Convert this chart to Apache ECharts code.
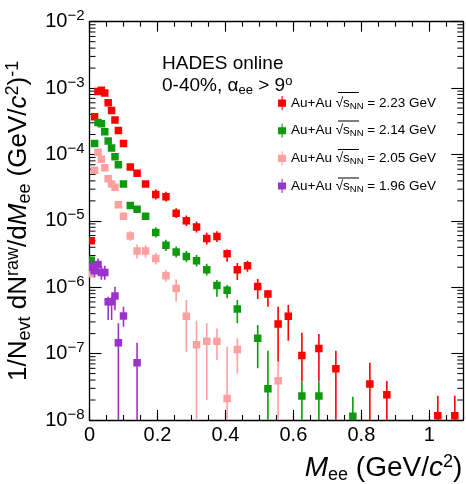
<!DOCTYPE html>
<html><head><meta charset="utf-8">
<script src="https://cdn.jsdelivr.net/npm/echarts@6/dist/echarts.min.js"></script>
<style>html,body{margin:0;padding:0;background:#fff}#c{width:466px;height:484px}</style>
</head><body><div id="c"></div>
<script>
const FONT = '"Liberation Sans", Arial, Helvetica, sans-serif';

// ---- data ----
const energies = ['2.23', '2.14', '2.05', '1.96'];
const colors = ['#ff0000', '#0e9a0e', '#ffa0a0', '#9a33cc'];

const redX = [0.005,0.015,0.025,0.035,0.045,0.055,0.065,0.075,0.085,0.1,0.12,0.14,0.165,0.195,0.225,0.255,0.285,0.315,0.345,0.375,0.405,0.435,0.465,0.495,0.525,0.555,0.585,0.625,0.675,0.725,0.825,0.875,1.025,1.075];
const redY = [5.0e-6,3.7e-4,8.9e-4,9.3e-4,8.4e-4,6.0e-4,4.6e-4,3.3e-4,2.3e-4,1.46e-4,6.5e-5,5.2e-5,3.6e-5,2.5e-5,2.3e-5,1.3e-5,1.0e-5,8.1e-6,5.4e-6,5.8e-6,3.2e-6,1.84e-6,2.1e-6,1.03e-6,7.9e-7,2.8e-7,3.65e-7,9.4e-8,1.19e-7,5.9e-8,3.5e-8,2.4e-8,1.16e-8,1.16e-8];
const redLo = [null,null,null,null,null,null,null,null,null,null,null,null,null,2.1e-5,1.95e-5,1.1e-5,8.4e-6,6.7e-6,4.4e-6,4.8e-6,2.43e-6,1.28e-6,1.71e-6,6.65e-7,5.1e-7,7.55e-8,1.56e-7,3.8e-8,3.8e-8,0,0,0,0,0];
const redHi = [null,null,null,null,null,null,null,null,null,null,null,null,null,3.0e-5,2.75e-5,1.55e-5,1.2e-5,9.8e-6,6.6e-6,7.0e-6,3.7e-6,2.32e-6,2.5e-6,1.33e-6,9.1e-7,5.1e-7,5.4e-7,2.07e-7,1.97e-7,1.1e-7,7.3e-8,3.86e-8,2.32e-8,2.32e-8];

const greenX = [0.005,0.015,0.025,0.035,0.045,0.055,0.065,0.075,0.085,0.1,0.12,0.14,0.165,0.195,0.225,0.255,0.285,0.315,0.345,0.375,0.405,0.435,0.495,0.525,0.625,0.675,0.775];
const greenY = [2.54e-6,1.46e-4,3.04e-4,2.9e-4,2.2e-4,1.6e-4,1.25e-4,9.2e-5,7.0e-5,3.6e-5,1.7e-5,1.5e-5,1.17e-5,6.7e-6,4.3e-6,3.4e-6,2.9e-6,2.5e-6,1.84e-6,1.06e-6,9.0e-7,4.7e-7,1.7e-7,2.95e-8,2.3e-8,2.3e-8,1.14e-8];
const greenLo = [null,null,null,null,null,null,null,null,null,null,null,null,null,5.6e-6,3.5e-6,2.8e-6,2.4e-6,2.05e-6,1.5e-6,7.2e-7,6.8e-7,2.86e-7,6.0e-8,0,0,0,0];
const greenHi = [null,null,null,null,null,null,null,null,null,null,null,null,null,8.0e-6,5.2e-6,4.1e-6,3.5e-6,3.05e-6,2.25e-6,1.29e-6,1.08e-6,6.4e-7,2.7e-7,1.1e-7,3.78e-8,3.78e-8,2.24e-8];

const pinkX = [0.005,0.015,0.025,0.035,0.045,0.055,0.065,0.075,0.085,0.1,0.12,0.14,0.165,0.195,0.225,0.255,0.285,0.315,0.345,0.375,0.405,0.435,0.555];
const pinkY = [1.6e-6,5.8e-5,1.08e-4,8.5e-5,6.3e-5,4.3e-5,3.6e-5,3.2e-5,1.75e-5,1.17e-5,5.9e-6,3.5e-6,3.5e-6,2.7e-6,1.49e-6,9.6e-7,3.65e-7,1.36e-7,1.53e-7,1.53e-7,2.1e-8,1.15e-7,3.9e-8];
const pinkLo = [null,null,null,null,null,null,null,null,null,null,5.0e-6,2.7e-6,2.8e-6,2.2e-6,1.21e-6,6.05e-7,1.07e-7,0,2.0e-8,8.0e-8,0,5.0e-8,0];
const pinkHi = [null,null,null,null,null,null,null,null,null,null,7.0e-6,4.4e-6,4.3e-6,3.3e-6,1.82e-6,1.31e-6,6.4e-7,3.13e-7,2.86e-7,2.4e-7,1.27e-7,1.7e-7,7.55e-8];

const purpleX = [0.005,0.015,0.025,0.035,0.045,0.055,0.065,0.075,0.085,0.1,0.14];
const purpleY = [2.0e-6,1.77e-6,2.2e-6,1.66e-6,1.66e-6,6.05e-7,6.05e-7,7.4e-7,1.46e-7,3.7e-7,7.3e-8];
const purpleLo = [1.6e-6,1.4e-6,1.8e-6,1.3e-6,1.3e-6,3.2e-7,3.2e-7,4.5e-7,0,2.54e-7,0];
const purpleHi = [2.5e-6,2.2e-6,2.7e-6,2.1e-6,2.1e-6,7.2e-7,7.2e-7,1.02e-6,2.86e-7,5.1e-7,1.46e-7];

// ---- axes ----
const xMin = 0, xMax = 1.1;
const xTicks = [0, 0.2, 0.4, 0.6, 0.8, 1.0];
const xTickLabels = ['0', '0.2', '0.4', '0.6', '0.8', '1'];
const yMin = 1e-8, yMax = 1e-2;
const yTicks = [1e-8, 1e-7, 1e-6, 1e-5, 1e-4, 1e-3, 1e-2];
const yTickExp = ['\u22128', '\u22127', '\u22126', '\u22125', '\u22124', '\u22123', '\u22122'];
const yMinorMultipliers = [2, 3, 4, 5, 6, 7, 8, 9];
const yMinorDecades = [1e-8, 1e-7, 1e-6, 1e-5, 1e-4, 1e-3];

const chart = echarts.init(document.getElementById('c'), null, {renderer: 'canvas'});

function xLabel(v) {
  for (let i = 0; i < xTicks.length; i++) if (Math.abs(v - xTicks[i]) < 1e-6) return xTickLabels[i];
  return '';
}
function yLabel(v) {
  for (let i = 0; i < yTicks.length; i++) if (Math.abs(Math.log10(v) - Math.log10(yTicks[i])) < 1e-6) return '{b|10}{s|' + yTickExp[i] + '}';
  return '';
}

function makeSeries(i, xs, ys, lo, hi) {
  const data = xs.map((x, k) => [x, ys[k], lo[k] == null ? ys[k] : lo[k], hi[k] == null ? ys[k] : hi[k]]);
  const col = colors[i];
  return {
    type: 'custom', name: energies[i], xAxisIndex: 0, yAxisIndex: 0,
    itemStyle: {color: col}, clip: true, z: 3 + i,
    encode: {x: 0, y: 1},
    data: data,
    renderItem: function (params, api) {
      const x = api.value(0), y = api.value(1), l = api.value(2), h = api.value(3);
      const cs = params.coordSys;
      const bottom = cs.y + cs.height;
      const p = api.coord([x, y]);
      const yl = l > 0 ? Math.min(api.coord([x, Math.max(l, yMin)])[1], bottom) : bottom;
      const yh = api.coord([x, h])[1];
      const s = 7.5;
      return {type: 'group', children: [
        {type: 'line', shape: {x1: p[0], y1: yl, x2: p[0], y2: yh}, style: {stroke: col, lineWidth: 1.6}},
        {type: 'rect', shape: {x: p[0] - s / 2, y: p[1] - s / 2, width: s, height: s}, style: {fill: col}}
      ]};
    }
  };
}

const minorData = [];
yMinorDecades.forEach(d => yMinorMultipliers.forEach(m => minorData.push([0, m * d])));

const axisLineStyle = {color: '#000', width: 1.3};
const tickStyle = {color: '#000', width: 1.1};
const ICON = 'path://M0,4h9v8h-9z M4,0h1.2v16h-1.2z';

// overline of the square root in the legend (decoration)
const legendTop = 91, legendRow = 28.5;
const overlines = energies.map((e, i) => ({
  type: 'line', silent: true,
  shape: {x1: 338, y1: legendTop + 1.5 + i * legendRow, x2: 359, y2: legendTop + 1.5 + i * legendRow},
  style: {stroke: '#000', lineWidth: 1}
}));

const option = {
  animation: false,
  backgroundColor: '#ffffff',
  grid: {left: 89.5, right: 2.7, top: 21.7, bottom: 64, show: false, containLabel: false, outerBoundsMode: 'none'},
  legend: {
    orient: 'vertical', left: 273, top: legendTop, itemWidth: 8, itemHeight: 15, itemGap: 12.5,
    data: energies.map(e => ({name: e, icon: ICON})),
    selectedMode: false,
    formatter: function (name) { return '{t|Au+Au }{t|\u221A}{s|s}{sub|NN}{t| = ' + name + ' GeV}'; },
    textStyle: {
      color: '#000', fontFamily: FONT, fontSize: 13.5,
      rich: {
        t: {fontSize: 13.5, fontFamily: FONT, color: '#000', lineHeight: 16},
        s: {fontSize: 13.5, fontFamily: FONT, color: '#000', lineHeight: 16},
        sub: {fontSize: 9.5, fontFamily: FONT, color: '#000', lineHeight: 9, verticalAlign: 'bottom'}
      }
    }
  },
  graphic: [
    {type: 'text', left: 162, top: 54.5, style: {text: 'HADES online', font: '19px ' + FONT, fill: '#000'}},
    {type: 'text', left: 162, top: 75, style: {
      text: '{t|0-40%, }{a|\u03B1}{sub|ee}{t| > 9}{sup|o}', fill: '#000',
      rich: {
        t: {fontSize: 19, fontFamily: FONT, lineHeight: 22},
        a: {fontSize: 19, fontFamily: FONT, lineHeight: 22},
        sub: {fontSize: 13, fontFamily: FONT, lineHeight: 12, verticalAlign: 'bottom'},
        sup: {fontSize: 13, fontFamily: FONT, lineHeight: 13, verticalAlign: 'top'}
      }
    }}
  ].concat(overlines),
  xAxis: [
    {type: 'value', min: xMin, max: xMax, interval: 0.2, position: 'bottom',
     axisLine: {show: true, onZero: false, lineStyle: axisLineStyle},
     axisTick: {show: true, inside: true, length: 10, lineStyle: tickStyle},
     axisLabel: {formatter: xLabel, margin: 5, fontSize: 20, fontFamily: FONT, color: '#000', showMaxLabel: false},
     splitLine: {show: false},
     name: '{it|M}{sub|ee}{t| (GeV/}{it|c}{sup|2}{t|)}', nameLocation: 'end', nameGap: -1,
     nameTextStyle: {align: 'right', verticalAlign: 'top', padding: [33, 0, 0, 0], color: '#000',
       rich: {
         t: {fontSize: 28, fontFamily: FONT, color: '#000', lineHeight: 31},
         it: {fontSize: 28, fontFamily: FONT, fontStyle: 'italic', color: '#000', lineHeight: 31},
         sub: {fontSize: 18, fontFamily: FONT, color: '#000', lineHeight: 14, verticalAlign: 'bottom'},
         sup: {fontSize: 18, fontFamily: FONT, color: '#000', lineHeight: 16, verticalAlign: 'top'}
       }}},
    {type: 'value', min: xMin, max: xMax, interval: 0.05, position: 'bottom',
     axisLine: {show: false}, axisTick: {show: true, inside: true, length: 5, lineStyle: tickStyle},
     axisLabel: {show: false}, splitLine: {show: false}},
    {type: 'value', min: xMin, max: xMax, interval: 0.2, position: 'top',
     axisLine: {show: true, onZero: false, lineStyle: axisLineStyle},
     axisTick: {show: true, inside: true, length: 10, lineStyle: tickStyle},
     axisLabel: {show: false}, splitLine: {show: false}},
    {type: 'value', min: xMin, max: xMax, interval: 0.05, position: 'top',
     axisLine: {show: false}, axisTick: {show: true, inside: true, length: 5, lineStyle: tickStyle},
     axisLabel: {show: false}, splitLine: {show: false}}
  ],
  yAxis: [
    {type: 'log', logBase: 10, min: yMin, max: yMax, splitNumber: 6, position: 'left',
     axisLine: {show: true, onZero: false, lineStyle: axisLineStyle},
     axisTick: {show: true, inside: true, length: 12, lineStyle: tickStyle},
     axisLabel: {formatter: yLabel, margin: 5, color: '#000',
       rich: {
         b: {fontSize: 20, fontFamily: FONT, color: '#000', lineHeight: 26},
         s: {fontSize: 15, fontFamily: FONT, color: '#000', lineHeight: 16, verticalAlign: 'top'}
       }},
     splitLine: {show: false},
     name: '{t|1/N}{sub|evt}{t| dN}{sup|raw}{t|/d}{it|M}{sub|ee}{t| (GeV/}{it|c}{sup|2}{t|)}{sup|-1}',
     nameLocation: 'middle', nameRotate: 90, nameGap: 50,
     nameTextStyle: {color: '#000',
       rich: {
         t: {fontSize: 26, fontFamily: FONT, color: '#000', lineHeight: 30},
         it: {fontSize: 26, fontFamily: FONT, fontStyle: 'italic', color: '#000', lineHeight: 30},
         sub: {fontSize: 18, fontFamily: FONT, color: '#000', lineHeight: 16, verticalAlign: 'bottom'},
         sup: {fontSize: 18, fontFamily: FONT, color: '#000', lineHeight: 18, verticalAlign: 'top'}
       }}},
    {type: 'log', logBase: 10, min: yMin, max: yMax, splitNumber: 6, position: 'right',
     axisLine: {show: true, onZero: false, lineStyle: axisLineStyle},
     axisTick: {show: true, inside: true, length: 12, lineStyle: tickStyle},
     axisLabel: {show: false}, splitLine: {show: false}}
  ],
  series: [
    {type: 'custom', name: 'minorTicks', xAxisIndex: 0, yAxisIndex: 0, silent: true, z: 2,
     encode: {x: 0, y: 1}, data: minorData,
     renderItem: function (params, api) {
       const cs = params.coordSys;
       const yy = api.coord([0, api.value(1)])[1];
       return {type: 'group', children: [
         {type: 'line', shape: {x1: cs.x, y1: yy, x2: cs.x + 6, y2: yy}, style: {stroke: '#000', lineWidth: 1}},
         {type: 'line', shape: {x1: cs.x + cs.width - 6, y1: yy, x2: cs.x + cs.width, y2: yy}, style: {stroke: '#000', lineWidth: 1}}
       ]};
     }},
    makeSeries(0, redX, redY, redLo, redHi),
    makeSeries(1, greenX, greenY, greenLo, greenHi),
    makeSeries(2, pinkX, pinkY, pinkLo, pinkHi),
    makeSeries(3, purpleX, purpleY, purpleLo, purpleHi)
  ]
};
chart.setOption(option);
</script>
</body></html>
